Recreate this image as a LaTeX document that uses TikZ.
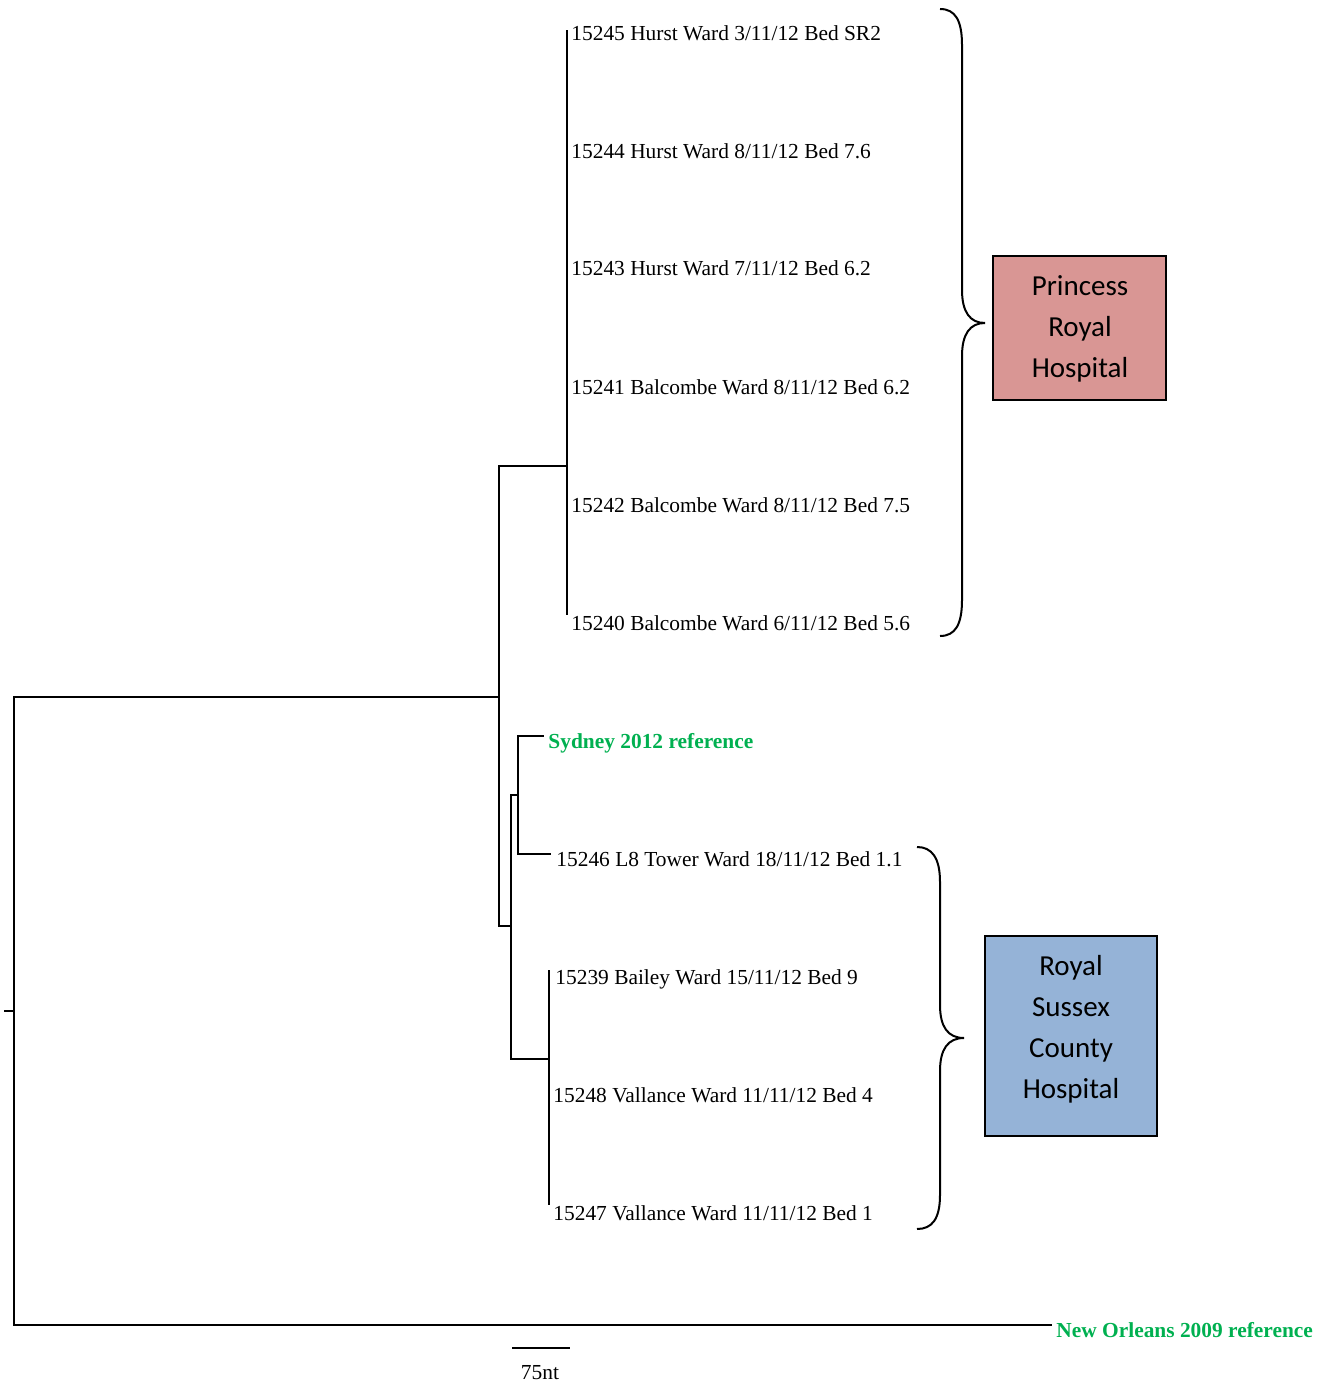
\documentclass[tikz,border=0pt]{standalone}
\usepackage{fontspec}
\setmainfont{Liberation Serif}
\newfontfamily\calibri{Carlito}
\definecolor{refgreen}{HTML}{00B050}
\definecolor{prhfill}{HTML}{D99694}
\definecolor{rscfill}{HTML}{95B3D7}

\begin{document}
\begin{tikzpicture}[x=0.5pt,y=-0.5pt,
  branch/.style={line width=0.65pt},
  leaf/.style={anchor=base west, inner sep=0pt, font=\fontsize{10.7}{12}\selectfont},
  refleaf/.style={leaf, text=refgreen, font=\fontsize{10.7}{12}\selectfont\bfseries},
  hospital/.style={draw, line width=1pt, inner sep=0pt},
  hosptext/.style={align=center, inner sep=0pt,
                   font=\calibri\fontsize{14.5}{20.5}\selectfont},
  curly/.style={line width=1pt}]
\useasboundingbox (0,0) rectangle (1319,1385);

% internal nodes of the tree
\coordinate (rootstub) at (4,1011);
\coordinate (root) at (14,1011);
\coordinate (na) at (499,697);
\coordinate (nb) at (567,466);
\coordinate (nc) at (511,926);
\coordinate (nd) at (518,795);
\coordinate (ne) at (549,1059);

% branch tips
\coordinate (t45) at (567,30);
\coordinate (t44) at (567,148);
\coordinate (t43) at (567,265);
\coordinate (t41) at (567,383);
\coordinate (t42) at (567,501);
\coordinate (t40) at (567,615);
\coordinate (tsyd) at (544,736);
\coordinate (t46) at (551,854);
\coordinate (t39) at (549,970);
\coordinate (t48) at (549,1090);
\coordinate (t47) at (549,1205);
\coordinate (tnola) at (1052,1325);

% leaf labels
\node[leaf] (L45) at (571,41) {15245 Hurst Ward 3/11/12 Bed SR2};
\node[leaf] (L44) at (571,159) {15244 Hurst Ward 8/11/12 Bed 7.6};
\node[leaf] (L43) at (571,276) {15243 Hurst Ward 7/11/12 Bed 6.2};
\node[leaf] (L41) at (571,394) {15241 Balcombe Ward 8/11/12 Bed 6.2};
\node[leaf] (L42) at (571,512) {15242 Balcombe Ward 8/11/12 Bed 7.5};
\node[leaf] (L40) at (571,630) {15240 Balcombe Ward 6/11/12 Bed 5.6};
\node[refleaf] (syd) at (548,748) {Sydney 2012 reference};
\node[leaf] (L46) at (556,866) {15246 L8 Tower Ward 18/11/12 Bed 1.1};
\node[leaf] (L39) at (555,984) {15239 Bailey Ward 15/11/12 Bed 9};
\node[leaf] (L48) at (553,1102) {15248 Vallance Ward 11/11/12 Bed 4};
\node[leaf] (L47) at (553,1220) {15247 Vallance Ward 11/11/12 Bed 1};
\node[refleaf] (nola) at (1056,1337) {New Orleans 2009 reference};

% branches
\draw[branch] (rootstub) -- (root);
\draw[branch] (root) |- (na);
\draw[branch] (root) |- (tnola);
\draw[branch] (na) |- (nb);
\draw[branch] (na) |- (nc);
\foreach \t in {t45,t44,t43,t41,t42,t40} \draw[branch] (nb) |- (\t);
\draw[branch] (nc) |- (nd);
\draw[branch] (nc) |- (ne);
\draw[branch] (nd) |- (tsyd);
\draw[branch] (nd) |- (t46);
\foreach \t in {t39,t48,t47} \draw[branch] (ne) |- (\t);

% scale bar
\coordinate (s0) at (512,1348);
\coordinate (s1) at (570,1348);
\draw[branch] (s0) -- (s1);
\node[anchor=base, inner sep=0pt, font=\fontsize{10.7}{12}\selectfont] (scale) at (540,1379) {75nt};

% hospital groups
\draw[curly] (940,9) .. controls (955,9) and (962,20) .. (962,45) -- (962,290)
  .. controls (962,312) and (970,323) .. (985,323)
  .. controls (970,323) and (962,334) .. (962,356) -- (962,600)
  .. controls (962,625) and (955,636) .. (940,636);
\draw[curly] (917,847) .. controls (932,847) and (940,858) .. (940,882) -- (940,1005)
  .. controls (940,1027) and (948,1038) .. (964,1038)
  .. controls (948,1038) and (940,1049) .. (940,1071) -- (940,1195)
  .. controls (940,1219) and (932,1229) .. (917,1229);

\node[hospital, fill=prhfill, minimum width=86.5pt, minimum height=72pt] (prh)
  at (1079.5,328) {};
\node[hosptext] (prhtext) at (1080,329) {Princess\\Royal\\Hospital};
\node[hospital, fill=rscfill, minimum width=86pt, minimum height=100pt] (rsch)
  at (1071,1036) {};
\node[hosptext] (rschtext) at (1071,1029) {Royal\\Sussex\\County\\Hospital};
\end{tikzpicture}
\end{document}
